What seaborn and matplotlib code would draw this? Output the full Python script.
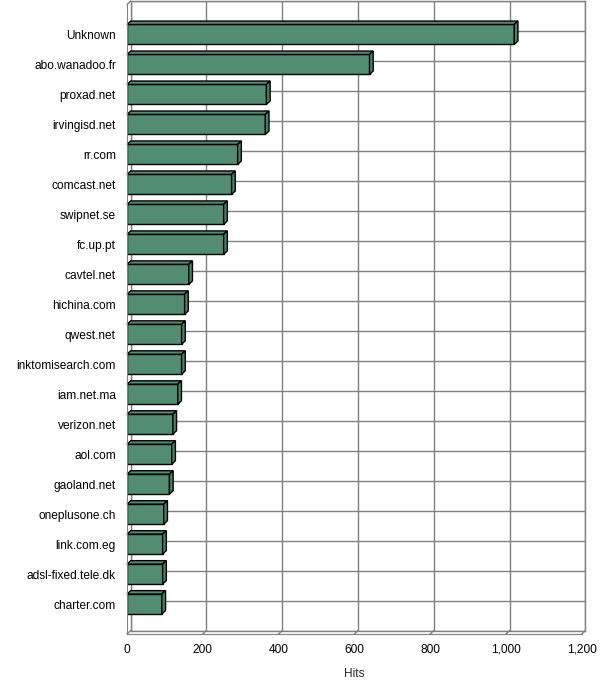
import matplotlib
matplotlib.use("Agg")
import matplotlib.pyplot as plt
import seaborn as sns
import pandas as pd
from matplotlib.patches import Polygon

domains = ["Unknown", "abo.wanadoo.fr", "proxad.net", "irvingisd.net", "rr.com",
           "comcast.net", "swipnet.se", "fc.up.pt", "cavtel.net", "hichina.com",
           "qwest.net", "inktomisearch.com", "iam.net.ma", "verizon.net", "aol.com",
           "gaoland.net", "oneplusone.ch", "link.com.eg", "adsl-fixed.tele.dk", "charter.com"]
hits = [1022, 640, 368, 365, 292, 276, 255, 255, 163, 152,
        144, 144, 134, 121, 118, 112, 97, 94, 94, 92]
xticks = [0, 200, 400, 600, 800, 1000, 1200]
xticklabels = ["0", "200", "400", "600", "800", "1,000", "1,200"]

sns.set_style("white")
plt.rcParams['font.family'] = ['Liberation Sans', 'DejaVu Sans']

W, H = 600, 694
fig = plt.figure(figsize=(W / 100, H / 100), dpi=100)
fx0, fx1, fy0, fy1 = 127, 581.7, 4.5, 634
offx, offy = 3.7, 3.4
rect = [fx0 / W, (H - fy1) / H, (fx1 - fx0) / W, (fy1 - fy0) / H]
back_rect = [(fx0 + offx) / W, (H - fy1 + offy) / H, (fx1 - fx0) / W, (fy1 - fy0) / H]

grey = "#808080"
green = "#528C71"

# back wall
axb = fig.add_axes(back_rect, zorder=0)
axb.set_xlim(0, 1200)
axb.set_ylim(20, -1)
axb.set_xticks(xticks)
axb.set_yticks(range(-1, 21))
axb.grid(True, color=grey, linewidth=1)
axb.tick_params(length=0, labelbottom=False, labelleft=False)
for s in axb.spines.values():
    s.set_color(grey)
    s.set_linewidth(1)

# front axes with bars
ax = fig.add_axes(rect, zorder=1)
ax.patch.set_visible(False)
df = pd.DataFrame({"domain": domains, "hits": hits})
sns.barplot(data=df, x="hits", y="domain", orient="h", color=green, saturation=1,
            edgecolor="black", linewidth=1, width=0.667, ax=ax)
ax.set_xlim(0, 1200)
ax.set_ylim(20, -1)

dxd = offx * 1200 / (fx1 - fx0)
dyd = offy * 21 / (fy1 - fy0)

for p in list(ax.patches):
    x0 = p.get_x()
    w = p.get_width()
    y0 = p.get_y()
    h = p.get_height()
    ytop = min(y0, y0 + h)
    ybot = max(y0, y0 + h)
    top = Polygon([(x0, ytop), (x0 + w, ytop), (x0 + w + dxd, ytop - dyd), (x0 + dxd, ytop - dyd)],
                  closed=True, facecolor=green, edgecolor="black", linewidth=1, zorder=p.get_zorder(),
                  clip_on=False)
    side = Polygon([(x0 + w, ytop), (x0 + w, ybot), (x0 + w + dxd, ybot - dyd), (x0 + w + dxd, ytop - dyd)],
                   closed=True, facecolor="#4A8166", edgecolor="black", linewidth=1, zorder=p.get_zorder(),
                   clip_on=False)
    ax.add_patch(top)
    ax.add_patch(side)

# floor / side-wall diagonals
for t in xticks:
    ax.plot([t, t + dxd], [20, 20 - dyd], color=grey, lw=1, clip_on=False, zorder=0.5)
ax.plot([0, dxd], [-1, -1 - dyd], color=grey, lw=1, clip_on=False, zorder=0.5)

ax.set_xticks(xticks)
ax.set_xticklabels(xticklabels)
ax.set_yticks(range(len(domains)))
ax.set_yticklabels(domains)
ax.set_xlabel("Hits", fontsize=8.6, labelpad=9)
ax.set_ylabel("")
ax.tick_params(axis="both", labelsize=8.6, colors="black", length=4, width=1, direction="out")
ax.tick_params(axis="x", pad=3, color=grey)
ax.tick_params(axis="y", pad=4, color=grey)
ax.spines["top"].set_visible(False)
ax.spines["right"].set_visible(False)
ax.spines["left"].set_color(grey)
ax.spines["bottom"].set_color(grey)
ax.grid(False)

fig.savefig("out.png", dpi=100)
